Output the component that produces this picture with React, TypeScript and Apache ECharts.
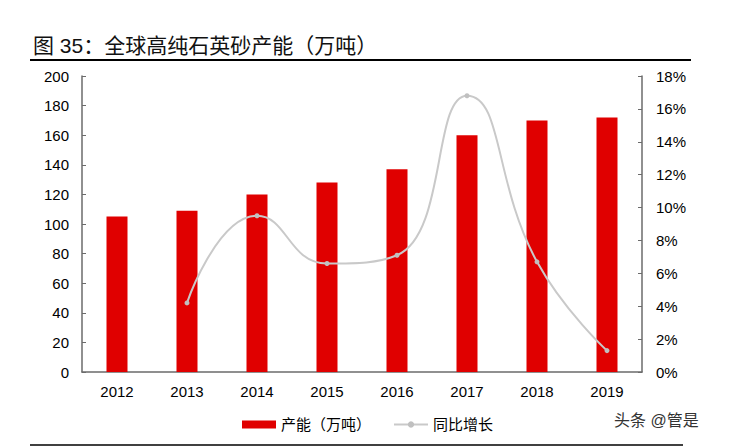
import { useEffect, useRef } from "react";
import * as echarts from "echarts";

const years = ["2012", "2013", "2014", "2015", "2016", "2017", "2018", "2019"];
// 产能（万吨）
const capacity = [105, 109, 120, 128, 137, 160, 170, 172];
// 同比增长 (%)
const growth: (number | null)[] = [null, 4.2, 9.5, 6.6, 7.1, 16.8, 6.7, 1.3];

const titleText = "图 35：全球高纯石英砂产能（万吨）";
const watermark = "头条 @管是";

const FONT = "'Liberation Sans', Arial, 'Noto Sans CJK SC', sans-serif";
const RED = "#e00000";
const GRAY_LINE = "#c9c9c9";
const AXIS = "#6b6b6b";

const App = () => {
  const chartRef = useRef<HTMLDivElement | null>(null);

  useEffect(() => {
    if (!chartRef.current) {
      return;
    }
    const instance = echarts.init(chartRef.current, undefined, {
      renderer: "svg",
    });

    const option: echarts.EChartsOption = {
      animation: false,
      textStyle: { fontFamily: FONT, color: "#000" },
      grid: {
        left: 82,
        right: 89,
        top: 76,
        bottom: 74,
        containLabel: false,
      },
      legend: {
        left: 237,
        top: 412,
        itemWidth: 34,
        itemHeight: 8,
        itemGap: 22,
        textStyle: { fontSize: 15, color: "#000", fontFamily: FONT },
        data: [
          { name: "产能（万吨）", icon: "rect" },
          { name: "同比增长" },
        ],
      },
      xAxis: {
        type: "category",
        data: years,
        boundaryGap: true,
        axisLine: { lineStyle: { color: AXIS, width: 1.5 } },
        axisTick: { inside: true, length: 4, lineStyle: { color: AXIS } },
        axisLabel: { fontSize: 15, color: "#000", margin: 12 },
        splitLine: { show: false },
      },
      yAxis: [
        {
          type: "value",
          min: 0,
          max: 200,
          interval: 20,
          axisLine: { show: true, lineStyle: { color: AXIS, width: 1.5 } },
          axisTick: { show: true, inside: true, length: 4, lineStyle: { color: AXIS } },
          axisLabel: { fontSize: 15, color: "#000", margin: 13 },
          splitLine: { show: false },
        },
        {
          type: "value",
          min: 0,
          max: 18,
          interval: 2,
          position: "right",
          axisLine: { show: true, lineStyle: { color: AXIS, width: 1.5 } },
          axisTick: { show: true, inside: true, length: 4, lineStyle: { color: AXIS } },
          axisLabel: { fontSize: 15, color: "#000", margin: 14, formatter: "{value}%" },
          splitLine: { show: false },
        },
      ],
      series: [
        {
          name: "产能（万吨）",
          type: "bar",
          data: capacity,
          barWidth: "30%",
          itemStyle: { color: RED },
        },
        {
          name: "同比增长",
          type: "line",
          yAxisIndex: 1,
          data: growth,
          smooth: 0.5,
          connectNulls: false,
          symbol: "circle",
          symbolSize: 5,
          lineStyle: { color: GRAY_LINE, width: 2 },
          itemStyle: { color: "#c0c0c0" },
        },
      ],
      graphic: [
        {
          type: "text",
          left: 33,
          top: 35,
          style: {
            text: titleText,
            fontSize: 21,
            fill: "#111",
            fontFamily: FONT,
          },
        },
        {
          type: "line",
          shape: { x1: 30, y1: 60, x2: 691, y2: 60 },
          style: { stroke: "#000", lineWidth: 2 },
        },
        {
          type: "line",
          shape: { x1: 30, y1: 445, x2: 683, y2: 445 },
          style: { stroke: "#000", lineWidth: 1.5 },
        },
        {
          type: "text",
          left: 614,
          top: 412,
          style: {
            text: watermark,
            fontSize: 16,
            fill: "#333",
            fontFamily: FONT,
          },
        },
      ],
    };

    instance.setOption(option, true);

    return () => {
      instance.dispose();
    };
  }, []);

  return (
    <div
      ref={chartRef}
      style={{ position: "absolute", left: 0, top: 0, width: 731, height: 446 }}
    />
  );
};

export default App;
